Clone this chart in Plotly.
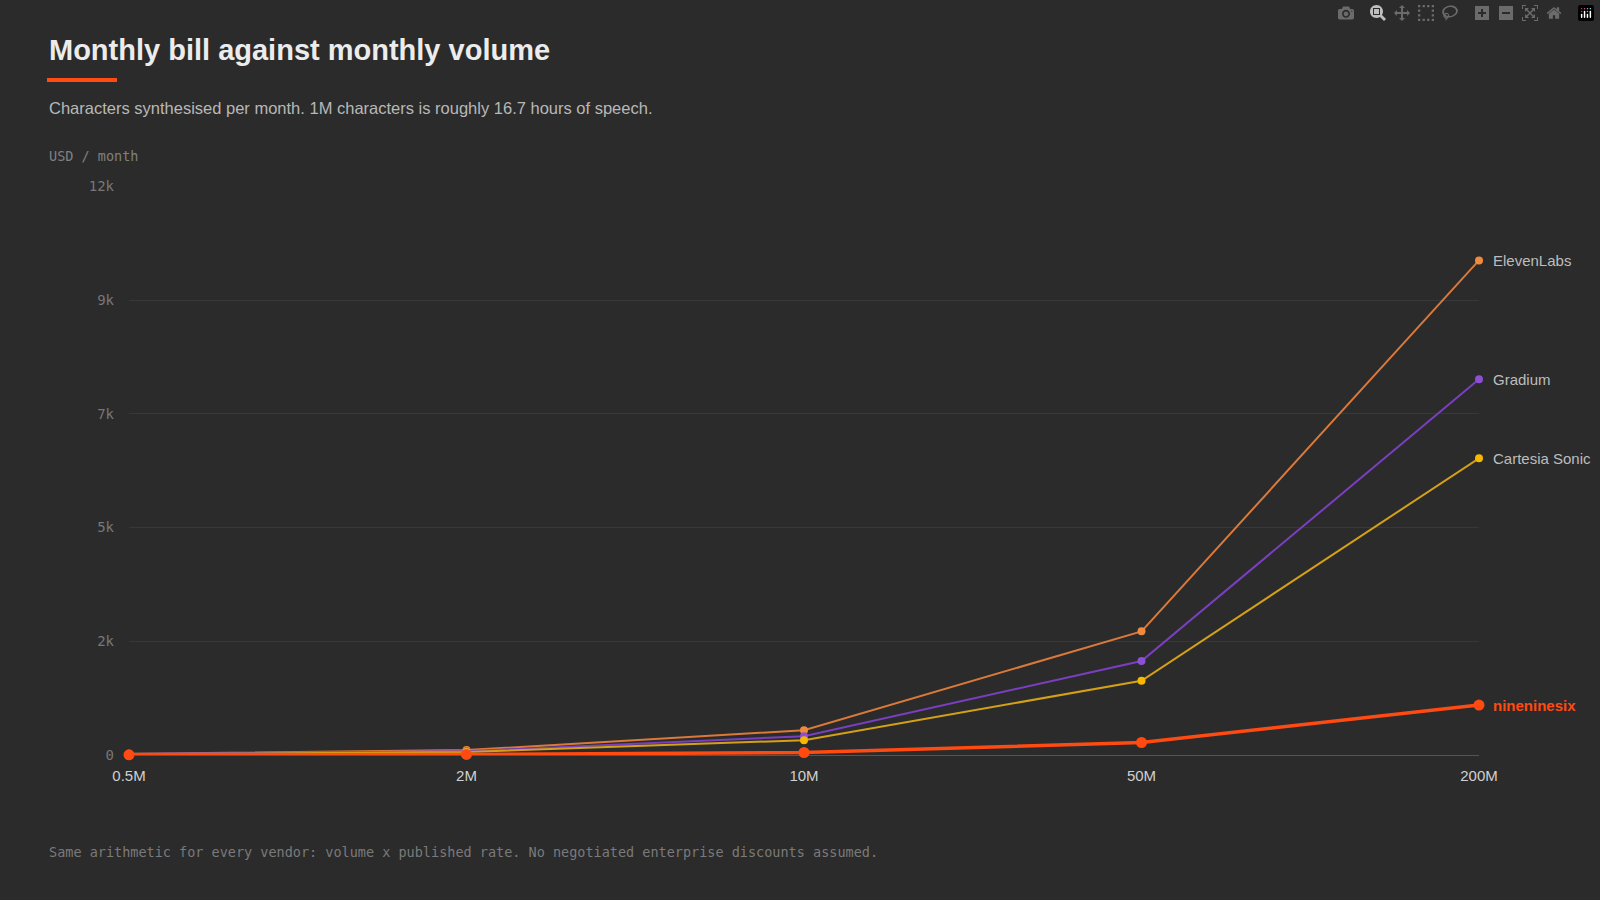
import plotly.graph_objects as go

volumes = ["0.5M", "2M", "10M", "50M", "200M"]
eleven = [26, 104, 522, 2610, 10440]
gradium = [20, 79, 397, 1982, 7930]
cartesia = [16, 63, 313, 1566, 6264]
nnn = [3, 11, 53, 264, 1055]
yticks = [0, 2400, 4800, 7200, 9600, 12000]
yticktext = ["0", "2k", "5k", "7k", "9k", "12k"]

series = [
    ("ElevenLabs", eleven, "#d9793a", "#f28a3d", 2, 8, "#bdbdbd", "normal"),
    ("Gradium", gradium, "#7a3fc0", "#8c4fd6", 2, 8, "#bdbdbd", "normal"),
    ("Cartesia Sonic", cartesia, "#d4a017", "#f7b900", 2, 8, "#bdbdbd", "normal"),
    ("nineninesix", nnn, "#ff4a12", "#ff4a12", 3.5, 11, "#ff4a12", "bold"),
]

fig = go.Figure()
for name, vals, lc, mc, w, ms, tc, fw in series:
    fig.add_trace(go.Scatter(x=volumes, y=vals, mode="lines+markers", name=name,
                             line=dict(color=lc, width=w), marker=dict(color=mc, size=ms),
                             cliponaxis=False))
    fig.add_annotation(x=volumes[-1], y=vals[-1], text=name, showarrow=False,
                       xanchor="left", xshift=12,
                       font=dict(color=tc, size=15, family="Helvetica, Liberation Sans, Arial", weight=fw))

fig.update_layout(
    width=1600, height=900, paper_bgcolor="#2b2b2b", plot_bgcolor="#2b2b2b",
    margin=dict(l=129, r=121, t=186, b=145), showlegend=False,
    font=dict(family="Liberation Sans, Arial", color="#bdbdbd"),
    xaxis=dict(type="category", range=[0, 4], showgrid=False, zeroline=False,
               showline=False, ticks="", tickfont=dict(size=15, color="#d0d0d0"), ticklabelstandoff=10),
    yaxis=dict(range=[0, 12010], tickvals=yticks, ticktext=yticktext, gridcolor="#383838",
               zeroline=True, zerolinecolor="#555555", zerolinewidth=1, showline=False,
               tickfont=dict(size=14, color="#777777", family="DejaVu Sans Mono"), ticklabelstandoff=14),
    shapes=[dict(type="rect", xref="paper", yref="paper", x0=-82/1350, x1=-12/1350,
                 y0=1+(186-78)/569, y1=1+(186-82)/569, fillcolor="#ff4a12", line_width=0)],
)
ann = [
    ("Monthly bill against monthly volume", 50, 29, "#ececec", "Liberation Sans, Arial", "bold"),
    ("Characters synthesised per month. 1M characters is roughly 16.7 hours of speech.", 108, 16.5, "#b8b8b8", "Liberation Sans, Arial", "normal"),
    ("USD / month", 156, 13.5, "#808080", "DejaVu Sans Mono", "normal"),
    ("Same arithmetic for every vendor: volume x published rate. No negotiated enterprise discounts assumed.", 852, 13.5, "#7a7a7a", "DejaVu Sans Mono", "normal"),
]
for t, y, s, c, f, w in ann:
    fig.add_annotation(text=t, xref="paper", yref="paper", x=-82/1350, y=1+(186-y)/569,
                       xanchor="left", yanchor="middle", showarrow=False,
                       font=dict(size=s, color=c, family=f, weight=w))
fig.write_html("out.html", post_script="document.body.style.margin='0';document.body.style.background='#2b2b2b';")
